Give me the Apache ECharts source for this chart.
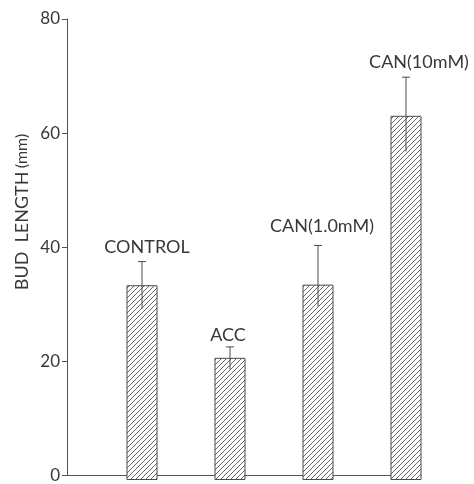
<!DOCTYPE html>
<html><head><meta charset="utf-8">
<script src="https://cdn.jsdelivr.net/npm/echarts@6/dist/echarts.min.js"></script>
<style>html,body{margin:0;padding:0;background:#fff}#chart{width:474px;height:484px}</style>
</head><body><div id="chart"></div>
<script>
// Bud length by treatment, mean with error range
const categories = ['CONTROL', 'ACC', 'CAN(1.0mM)', 'CAN(10mM)'];
const budLength = [33.8, 21.2, 33.9, 63.2];
const errLow = [29.7, 19.2, 30.1, 57.0];
const errHigh = [37.9, 23.1, 40.7, 69.9];
const yMin = 0, yMax = 80, yStep = 20;

// label nudges from the top of each error bar, in px [dx, dy]
const labelShift = [[5, -14], [-2, -12], [4, -19], [13, -15]];

const FONT = 'Lato, "Open Sans", sans-serif';
const INK = '#383838';

// diagonal hatching tile
function hatchTile() {
  const s = 5, c = document.createElement('canvas');
  c.width = s; c.height = s;
  const g = c.getContext('2d');
  g.fillStyle = '#ffffff'; g.fillRect(0, 0, s, s);
  g.strokeStyle = '#555555'; g.lineWidth = 0.9;
  g.beginPath();
  g.moveTo(-1, s + 1); g.lineTo(s + 1, -1);
  g.moveTo(-1, 1); g.lineTo(1, -1);
  g.moveTo(s - 1, s + 1); g.lineTo(s + 1, s - 1);
  g.stroke();
  return c;
}

const chart = echarts.init(document.getElementById('chart'), null, {renderer: 'canvas'});

const errData = categories.map((c, i) => [i, errLow[i], errHigh[i]]);

chart.setOption({
  backgroundColor: '#ffffff',
  animation: false,
  grid: [
    {left: 67, top: 19, width: 354, height: 461},
    {left: 98, top: 19, width: 352, height: 461}
  ],
  xAxis: [
    {gridIndex: 0, type: 'value', min: 0, max: 1,
     axisLine: {show: true, onZero: false, lineStyle: {color: '#555555', width: 1}},
     axisTick: {show: false}, axisLabel: {show: false}, splitLine: {show: false}},
    {gridIndex: 1, type: 'category', data: categories, show: false}
  ],
  yAxis: [
    {gridIndex: 0, type: 'value', min: yMin, max: yMax, interval: yStep,
     axisLine: {show: true, lineStyle: {color: '#555555', width: 1}},
     axisTick: {show: true, inside: false, length: 5, lineStyle: {color: '#555555'}},
     axisLabel: {color: INK, fontFamily: FONT, fontSize: 17, margin: 7},
     splitLine: {show: false}},
    {gridIndex: 1, type: 'value', min: yMin, max: yMax, show: false}
  ],
  graphic: [{
    type: 'text', x: 22, y: 212, rotation: Math.PI / 2,
    style: {
      text: '{a|BUD  LENGTH} {b|(mm)}',
      align: 'center', verticalAlign: 'middle',
      rich: {
        a: {fontFamily: FONT, fontSize: 18, fill: INK, fontWeight: 'normal'},
        b: {fontFamily: FONT, fontSize: 16, fill: INK}
      }
    }
  }],
  series: [
    {
      type: 'bar', xAxisIndex: 1, yAxisIndex: 1,
      data: budLength, barWidth: 31,
      itemStyle: {
        color: {image: hatchTile(), repeat: 'repeat'},
        borderColor: '#4a4a4a', borderWidth: 1
      }
    },
    {
      type: 'custom', xAxisIndex: 1, yAxisIndex: 1,
      data: errData,
      z: 5,
      renderItem: function (params, api) {
        const i = api.value(0);
        const lo = api.coord([i, api.value(1)]);
        const hi = api.coord([i, api.value(2)]);
        const cap = 4;
        const st = {stroke: '#4a4a4a', lineWidth: 1};
        const sh = labelShift[i];
        return {
          type: 'group',
          children: [
            {type: 'line', shape: {x1: hi[0], y1: hi[1], x2: lo[0], y2: lo[1]}, style: st},
            {type: 'line', shape: {x1: hi[0] - cap, y1: hi[1], x2: hi[0] + cap, y2: hi[1]}, style: st},
            {type: 'text', x: hi[0] + sh[0], y: hi[1] + sh[1],
             style: {text: categories[i], fontFamily: FONT, fontSize: 18, fill: INK,
                     align: 'center', verticalAlign: 'middle'}}
          ]
        };
      }
    }
  ]
});
</script>
</body></html>
